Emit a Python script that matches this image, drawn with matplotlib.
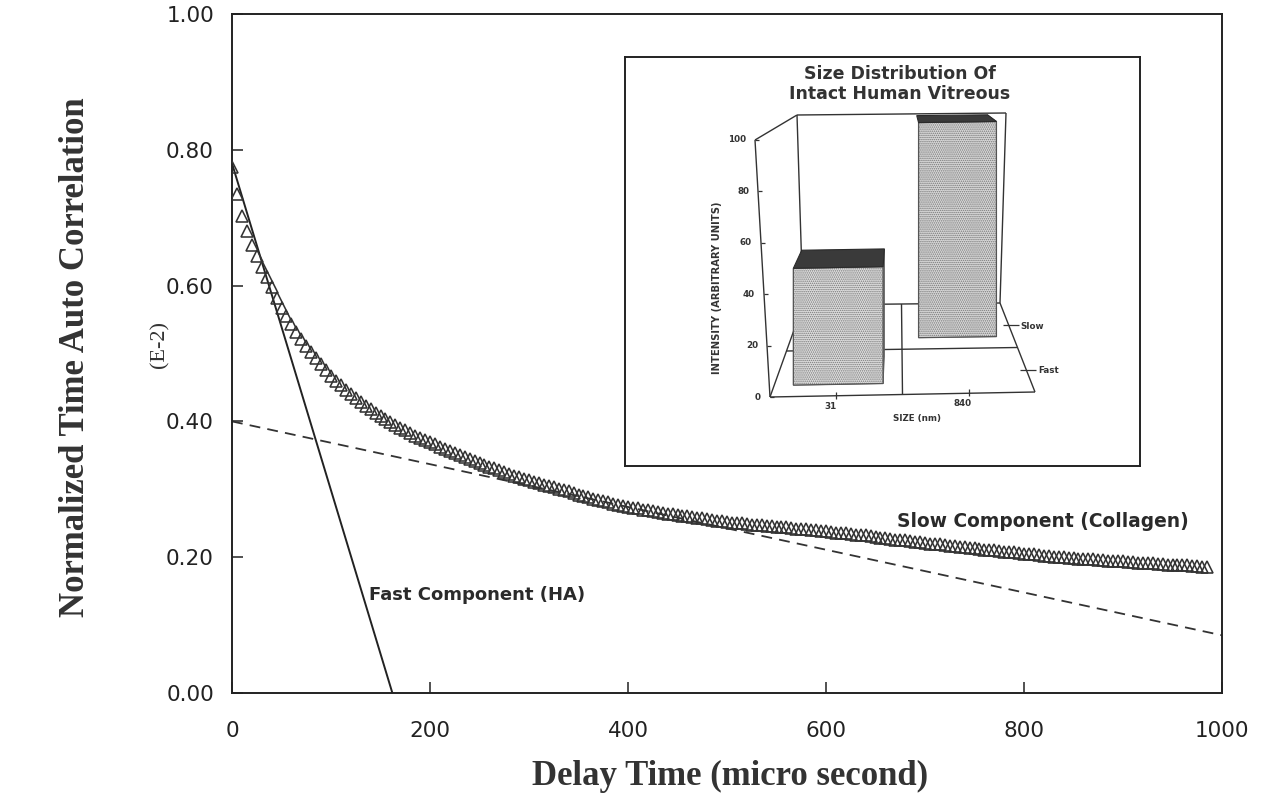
import numpy as np
import matplotlib
matplotlib.use("Agg")
import matplotlib.pyplot as plt
from matplotlib.patches import Polygon

# ---------------- data ----------------
delay_step_us = 5  # correlator channel spacing (micro second)
correlation = [
    0.775, 0.735, 0.703, 0.680, 0.660, 0.643, 0.627, 0.612, 0.598, 0.582,
    0.567, 0.555, 0.543, 0.532, 0.521, 0.511, 0.502, 0.493, 0.484, 0.475,
    0.467, 0.460, 0.453, 0.446, 0.440, 0.434, 0.429, 0.423, 0.418, 0.413,
    0.408, 0.404, 0.399, 0.395, 0.391, 0.387, 0.383, 0.379, 0.376, 0.372,
    0.369, 0.366, 0.363, 0.360, 0.357, 0.354, 0.351, 0.348, 0.345, 0.342,
    0.339, 0.336, 0.333, 0.331, 0.328, 0.326, 0.323, 0.320, 0.318, 0.315,
    0.313, 0.311, 0.309, 0.307, 0.305, 0.303, 0.301, 0.299, 0.297, 0.294,
    0.292, 0.290, 0.288, 0.286, 0.284, 0.283, 0.281, 0.279, 0.277, 0.276,
    0.274, 0.273, 0.272, 0.270, 0.269, 0.268, 0.267, 0.265, 0.264, 0.263,
    0.262, 0.261, 0.260, 0.259, 0.258, 0.257, 0.256, 0.255, 0.254, 0.253,
    0.252, 0.251, 0.251, 0.250, 0.249, 0.248, 0.248, 0.247, 0.246, 0.246,
    0.245, 0.244, 0.244, 0.243, 0.242, 0.242, 0.241, 0.240, 0.240, 0.239,
    0.238, 0.237, 0.236, 0.236, 0.235, 0.234, 0.233, 0.232, 0.232, 0.231,
    0.230, 0.229, 0.228, 0.227, 0.226, 0.226, 0.225, 0.224, 0.223, 0.222,
    0.221, 0.220, 0.219, 0.219, 0.218, 0.217, 0.216, 0.215, 0.215, 0.214,
    0.213, 0.212, 0.211, 0.211, 0.210, 0.209, 0.208, 0.207, 0.207, 0.206,
    0.205, 0.204, 0.204, 0.203, 0.202, 0.202, 0.201, 0.201, 0.200, 0.199,
    0.199, 0.198, 0.198, 0.197, 0.197, 0.196, 0.196, 0.195, 0.195, 0.194,
    0.194, 0.193, 0.193, 0.192, 0.192, 0.191, 0.191, 0.190, 0.190, 0.189,
    0.189, 0.189, 0.188, 0.188, 0.187, 0.187, 0.186, 0.186,
]
fast_line_t = [0, 162]
fast_line_v = [0.78, 0.0]
slow_line_t = [0, 1000]
slow_line_v = [0.40, 0.085]

x_ticks = [0, 200, 400, 600, 800, 1000]
x_tick_labels = ["0", "200", "400", "600", "800", "1000"]
y_ticks = [0.0, 0.2, 0.4, 0.6, 0.8, 1.0]
y_tick_labels = ["0.00", "0.20", "0.40", "0.60", "0.80", "1.00"]

inset_sizes = ["31", "840"]
inset_rows = ["Fast", "Slow"]
inset_intensity = [47, 100]
inset_yticks = [0, 20, 40, 60, 80, 100]

# ---------------- figure ----------------
W, H = 1269, 794
fig = plt.figure(figsize=(W / 100, H / 100), dpi=100)
fig.patch.set_facecolor("white")

ax = fig.add_axes([232 / W, 1 - 693 / H, 990 / W, 679 / H])
ax.set_xlim(0, 1000)
ax.set_ylim(0, 1.0)

t = np.arange(len(correlation)) * delay_step_us
ax.plot(t, correlation, linestyle="none", marker="^", markersize=8.3,
        markerfacecolor="none", markeredgecolor="#333333", markeredgewidth=1.15,
        zorder=3)
ax.plot(fast_line_t, fast_line_v, color="#222222", lw=1.4, zorder=2)
ax.plot(slow_line_t, slow_line_v, color="#333333", lw=1.3,
        linestyle=(0, (6, 4)), zorder=2)

sans = "DejaVu Sans"
serif = "Liberation Serif"

ax.set_xticks(x_ticks)
ax.set_xticklabels(x_tick_labels, fontfamily=sans, fontsize=15.5, color="#222222")
ax.set_yticks(y_ticks)
ax.set_yticklabels(y_tick_labels, fontfamily=sans, fontsize=15.5, color="#222222")
ax.tick_params(axis="both", direction="in", length=8, width=1.1, color="#222222")
ax.tick_params(axis="x", pad=20)
ax.tick_params(axis="y", pad=13)
for sp in ax.spines.values():
    sp.set_linewidth(1.4)
    sp.set_color("#222222")

ax.text(138, 0.145, "Fast Component (HA)", fontfamily=sans, fontsize=13,
        fontweight="bold", color="#2a2a2a", va="center", ha="left")
ax.text(672, 0.252, "Slow Component (Collagen)", fontfamily=sans, fontsize=13.4,
        fontweight="bold", color="#2a2a2a", va="center", ha="left")

fig.text(76 / W, 1 - 357 / H, "Normalized Time Auto Correlation",
         fontfamily=serif, fontweight="bold", fontsize=25, rotation=90,
         ha="center", va="center", color="#333333")
fig.text(160 / W, 1 - 345 / H, "(E-2)", fontfamily=serif, fontsize=16,
         rotation=90, ha="center", va="center", color="#333333")
fig.text(730 / W, 1 - 776 / H, "Delay Time (micro second)",
         fontfamily=serif, fontweight="bold", fontsize=25,
         ha="center", va="center", color="#333333")

# ---------------- inset (pseudo-3D bar chart) ----------------
ix0, iy0, ix1, iy1 = 625, 57, 1140, 466
ins = fig.add_axes([ix0 / W, 1 - iy1 / H, (ix1 - ix0) / W, (iy1 - iy0) / H])
ins.set_xlim(ix0, ix1)
ins.set_ylim(iy1, iy0)
ins.set_xticks([])
ins.set_yticks([])
for sp in ins.spines.values():
    sp.set_linewidth(1.4)
    sp.set_color("#222222")

# floor geometry (layout)
FL = np.array([770.0, 397.0])
FR = np.array([1035.0, 392.0])
BL = np.array([803.0, 305.0])
BR = np.array([1000.0, 303.0])
scale_front, scale_back = 2.57, 1.90   # px per intensity unit
lean_front, lean_back = 0.15, 0.06
n_cat, n_row = len(inset_sizes), len(inset_rows)
hmax = inset_yticks[-1]


def P(x, z, h, lean=False):
    u, v = x / n_cat, z / n_row
    base = (1 - v) * ((1 - u) * FL + u * FR) + v * ((1 - u) * BL + u * BR)
    s = (1 - v) * scale_front + v * scale_back
    dx = 0.0
    if lean:
        dx = (u - 0.5) * 2 * ((1 - v) * lean_front + v * lean_back) * h
    return np.array([base[0] + dx, base[1] - h * s])


def seg(p, q, lw=1.0, z=2):
    ins.plot([p[0], q[0]], [p[1], q[1]], color="#333333", lw=lw, zorder=z,
             solid_capstyle="butt")


# walls and floor
seg(P(0, 0, 0, True), P(0, 0, hmax, True))
seg(P(0, 0, hmax, True), P(0, n_row, hmax, True))
seg(P(0, n_row, 0, True), P(0, n_row, hmax, True))
seg(P(0, n_row, hmax, True), P(n_cat, n_row, hmax, True))
seg(P(n_cat, n_row, 0, True), P(n_cat, n_row, hmax, True))
seg(P(0, 0, 0), P(n_cat, 0, 0))
seg(P(n_cat, 0, 0), P(n_cat, n_row, 0))
seg(P(0, 0, 0), P(0, n_row, 0))
seg(P(0, n_row, 0), P(n_cat, n_row, 0))
seg(P(1, 0, 0), P(1, n_row, 0))
seg(P(0, 1, 0), P(n_cat, 1, 0))

# intensity axis ticks
small = dict(fontfamily=sans, fontweight="bold", fontsize=6.3, color="#333333")
for h in inset_yticks:
    p = P(0, 0, h, True)
    seg(p, p + np.array([3.5, 0]), lw=0.9)
    ins.text(p[0] - 9, p[1], str(h), ha="right", va="center", **small)
ins.text(717, 288, "INTENSITY (ARBITRARY UNITS)", rotation=90, ha="center",
         va="center", fontfamily=sans, fontweight="bold", fontsize=7.2,
         color="#333333")

# size axis ticks
for i, lab in enumerate(inset_sizes):
    p = P(i + 0.5, 0, 0)
    seg(p + np.array([0, -4]), p + np.array([0, 3]), lw=0.9)
    ins.text(p[0] - 6, p[1] + 6, lab, ha="center", va="top", **small)
ins.text(917, 418, "SIZE (nm)", ha="center", va="center", **small)

# row labels
for r, lab in enumerate(inset_rows):
    p = P(n_cat, r + 0.5, 0)
    seg(p + np.array([-6, 0]), p + np.array([10, 0]), lw=0.9)
    ins.text(p[0] + 12, p[1] + 1, lab, ha="left", va="center", **small)

# bars (back row first)
plt.rcParams["hatch.linewidth"] = 0.7
face_colors = ["#dedede", "#d8d8d8"]
for i in sorted(range(n_cat), key=lambda k: -k):
    h = inset_intensity[i]
    x0, x1 = i + 0.15, i + 0.85
    z0, z1 = i + 0.25, i + 0.85
    zo = 5 + (n_cat - i)
    side = [P(x1, z0, 0), P(x1, z1, 0), P(x1, z1, h), P(x1, z0, h)]
    ins.add_patch(Polygon(side, closed=True, facecolor="#9c9c9c",
                          edgecolor="#555555", lw=0.6, zorder=zo))
    front = [P(x0, z0, 0), P(x1, z0, 0), P(x1, z0, h), P(x0, z0, h)]
    ins.add_patch(Polygon(front, closed=True, facecolor=face_colors[i],
                          edgecolor="#777777", hatch="........", lw=0.6,
                          zorder=zo))
    ins.add_patch(Polygon(front, closed=True, facecolor="none",
                          edgecolor="#555555", lw=0.9, zorder=zo))
    top = [P(x0, z0, h), P(x1, z0, h), P(x1, z1, h), P(x0, z1, h)]
    ins.add_patch(Polygon(top, closed=True, facecolor="#3a3a3a",
                          edgecolor="#2a2a2a", lw=0.8, zorder=zo))

ins.text(900, 84, "Size Distribution Of\nIntact Human Vitreous", ha="center",
         va="center", fontfamily=sans, fontweight="bold", fontsize=12.5,
         color="#333333", linespacing=1.15)

fig.savefig("out.png", dpi=100, facecolor="white")
